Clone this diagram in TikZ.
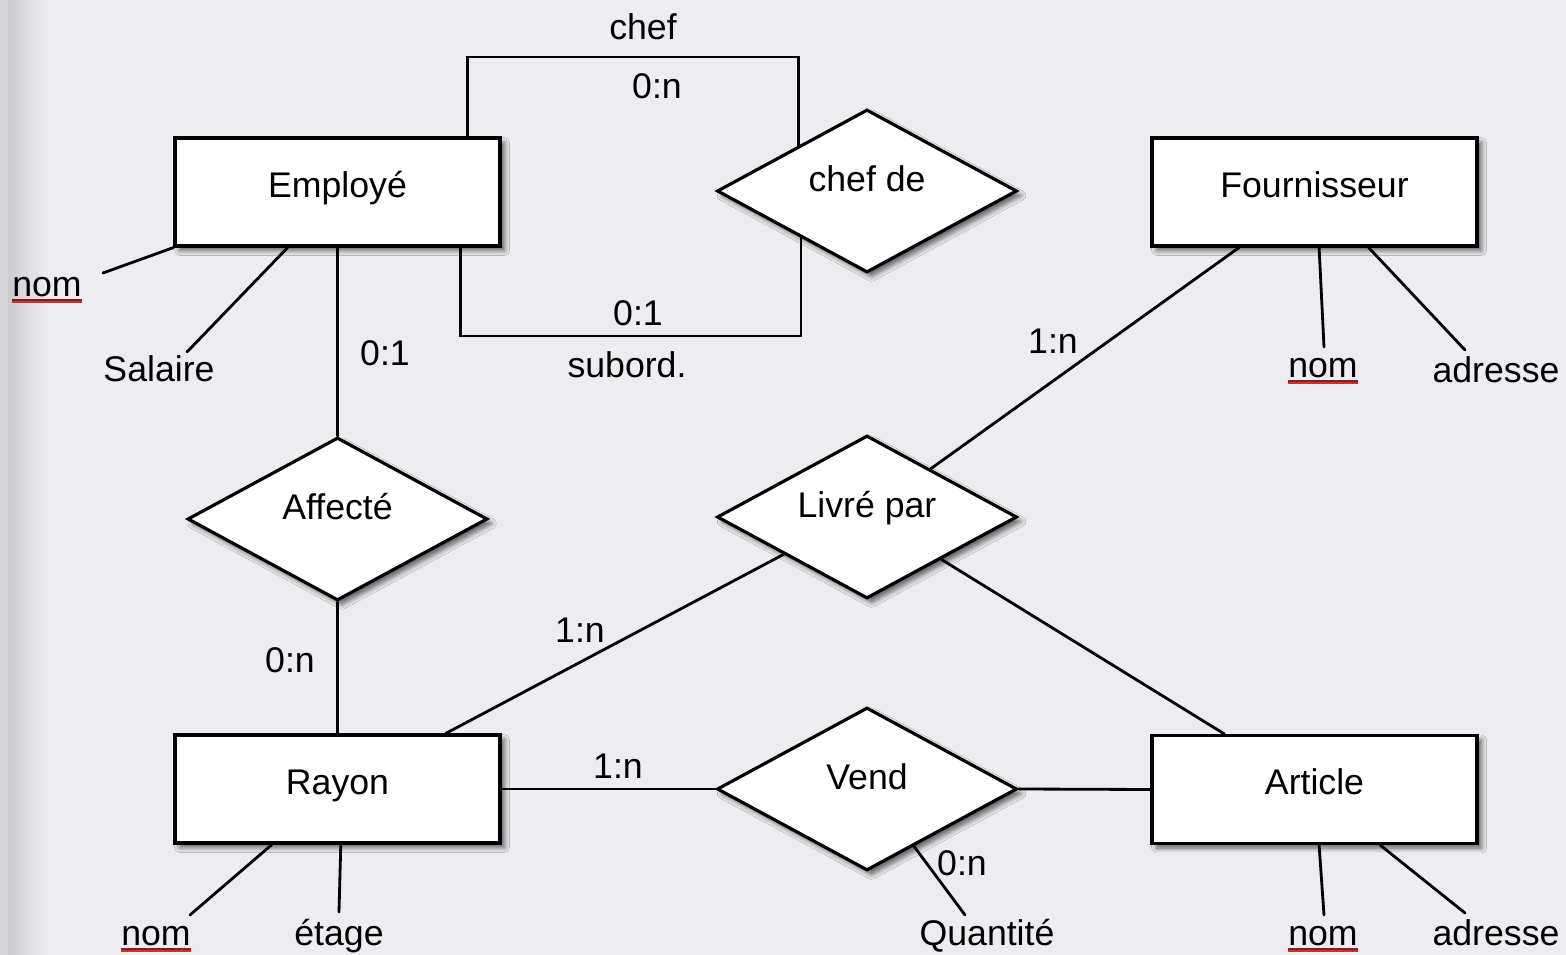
\documentclass[tikz,border=0pt]{standalone}
\usepackage{fontspec}
\setmainfont{Liberation Sans}
\usetikzlibrary{shapes.geometric,calc,shadows.blur}

\definecolor{bgcol}{RGB}{237,237,241}
\definecolor{edgecol}{RGB}{214,214,216}
\definecolor{shadecol}{RGB}{203,203,209}
\definecolor{spellred}{RGB}{214,45,45}
\definecolor{spelldark}{RGB}{125,35,35}

\tikzset{
  txtfont/.style={font=\fontsize{20.3}{24}\selectfont},
  lbl/.style={txtfont, inner sep=0pt, anchor=base},
  softshadow/.style={blur shadow={shadow xshift=2.6pt, shadow yshift=-2.6pt,
      shadow blur radius=2.8pt, shadow blur steps=6, shadow opacity=60}},
  entity/.style={rectangle, draw, line width=1.8pt, fill=white, txtfont,
      minimum width=6.5cm, minimum height=2.16cm, inner sep=0pt,
      text height=14pt, text depth=7.8pt, softshadow},
  relation/.style={diamond, draw, line width=1.8pt, fill=white, txtfont,
      aspect=1.83, minimum width=6cm, minimum height=3.26cm, inner sep=0pt,
      text height=10pt, text depth=9pt, softshadow},
  link/.style={line width=1.6pt, line cap=round},
  spellA/.style={spelldark, line width=0.9pt},
  spellB/.style={spellred, line width=0.9pt}
}

% underline for key attributes
\newcommand{\keyline}[1]{%
  \draw[spellA] ([yshift=-1.6pt]#1.base west) -- ([yshift=-1.6pt]#1.base east);
  \draw[spellB] ([yshift=-2.7pt]#1.base west) -- ([yshift=-2.7pt]#1.base east);
}

\begin{document}
\begin{tikzpicture}[x=0.02cm, y=-0.02cm]
  % page background with a soft shaded left edge
  \useasboundingbox (0,0) rectangle (1566,955);
  \fill[bgcol] (0,0) rectangle (1566,955);
  \fill[edgecol] (0,0) rectangle (8,955);
  \shade[left color=shadecol, right color=bgcol] (8,0) rectangle (46,955);

  % entities
  \node[entity] (emp)  at (337.5,192)  {Employé};
  \node[entity] (four) at (1314.5,192) {Fournisseur};
  \node[entity] (ray)  at (337.5,789)  {Rayon};
  \node[entity] (art)  at (1314.5,789.5) {Article};

  % relationships
  \node[relation] (chefde) at (867,191)   {chef de};
  \node[relation] (aff)    at (337.5,519) {Affecté};
  \node[relation] (livre)  at (867,517)   {Livré par};
  \node[relation] (vend)   at (867,789)   {Vend};

  % routing points and attribute line ends
  \coordinate (chefbar) at (630,57);
  \coordinate (subbar)  at (630,336);
  \coordinate (qtyend)  at (965,915);
  \coordinate (empnomend) at (103,273);
  \coordinate (salend)    at (187,352);
  \coordinate (fnomend)   at (1324,347);
  \coordinate (fadrend)   at (1465,350);
  \coordinate (rnomend)   at (190,915);
  \coordinate (etagend)   at (339,912);
  \coordinate (anomend)   at (1324,915);
  \coordinate (aadrend)   at (1465,913);

  % recursive association on Employé
  \draw[link] ($(emp.north west)!0.895!(emp.north east)$) |- (chefbar)
              -| ($(chefde.west)!0.55!(chefde.north)$);
  \draw[link] ($(emp.south west)!0.874!(emp.south east)$) |- (subbar)
              -| ($(chefde.west)!0.565!(chefde.south)$);

  % associations
  \draw[link] (emp.south) -- (aff.north);
  \draw[link] (aff.south) -- (ray.north);
  \draw[link] ($(four.south west)!0.27!(four.south east)$) -- ($(livre.north)!0.42!(livre.east)$);
  \draw[link] ($(livre.west)!0.45!(livre.south)$) -- ($(ray.north west)!0.83!(ray.north east)$);
  \draw[link] ($(livre.east)!0.51!(livre.south)$) -- ($(art.north west)!0.225!(art.north east)$);
  \draw[link] (ray.east) -- (vend.west);
  \draw[link] (vend.east) -- (art.west);
  \draw[link] ($(vend.south)!0.31!(vend.east)$) -- (qtyend);

  % attributes
  \draw[link] (emp.south west) -- (empnomend);
  \draw[link] ($(emp.south west)!0.348!(emp.south east)$) -- (salend);
  \draw[link] ($(four.south west)!0.514!(four.south east)$) -- (fnomend);
  \draw[link] ($(four.south west)!0.665!(four.south east)$) -- (fadrend);
  \draw[link] ($(ray.south west)!0.30!(ray.south east)$) -- (rnomend);
  \draw[link] ($(ray.south west)!0.51!(ray.south east)$) -- (etagend);
  \draw[link] ($(art.south west)!0.514!(art.south east)$) -- (anomend);
  \draw[link] ($(art.south west)!0.70!(art.south east)$) -- (aadrend);

  % role names and cardinalities
  \node[lbl] (tchef)   at (643,40)   {chef};
  \node[lbl] (tc0n)    at (657,99)   {0:n};
  \node[lbl] (tc01)    at (638,326)  {0:1};
  \node[lbl] (tsub)    at (627,378)  {subord.};
  \node[lbl] (taff01)  at (385,366)  {0:1};
  \node[lbl] (taff0n)  at (290,673)  {0:n};
  \node[lbl] (tliv1nA) at (1053,354) {1:n};
  \node[lbl] (tliv1nB) at (580,643)  {1:n};
  \node[lbl] (tvend1n) at (618,779)  {1:n};
  \node[lbl] (tqty0n)  at (962,875)  {0:n};

  % attribute names
  \node[lbl] (anom1) at (47,297)    {nom};
  \node[lbl] (asal)  at (159,382)   {Salaire};
  \node[lbl] (anom2) at (1323,378)  {nom};
  \node[lbl] (aadr1) at (1496,383)  {adresse};
  \node[lbl] (anom3) at (156,946)   {nom};
  \node[lbl] (aeta)  at (339,946)   {étage};
  \node[lbl] (aqty)  at (987,946)   {Quantité};
  \node[lbl] (anom4) at (1323,946)  {nom};
  \node[lbl] (aadr2) at (1496,946)  {adresse};

  \keyline{anom1}
  \keyline{anom2}
  \keyline{anom3}
  \keyline{anom4}
\end{tikzpicture}
\end{document}
